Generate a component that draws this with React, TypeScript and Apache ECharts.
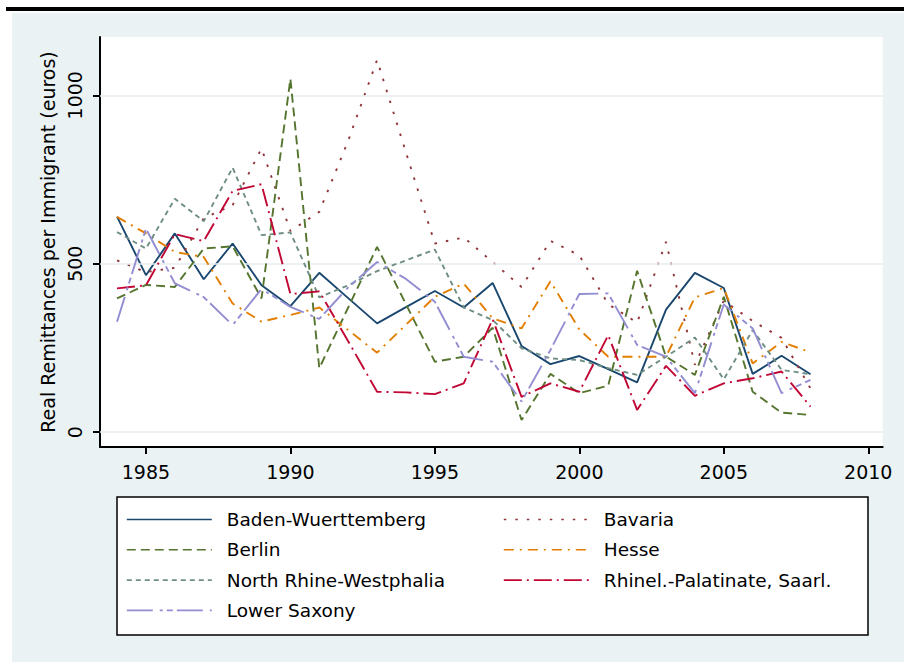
import React, { useEffect, useRef } from "react";
import * as echarts from "echarts";

const years = [1984, 1985, 1986, 1987, 1988, 1989, 1990, 1991, 1992, 1993, 1994, 1995, 1996, 1997, 1998, 1999, 2000, 2001, 2002, 2003, 2004, 2005, 2006, 2007, 2008];

const badenWuerttemberg = [640, 466, 590, 454, 560, 436, 374, 473, 398, 323, 371, 419, 370, 443, 256, 202, 226, 187, 148, 364, 473, 428, 173, 227, 172];
const bavaria = [510, 475, 488, 635, 674, 842, 597, 654, 865, 1105, 830, 560, 578, 505, 431, 568, 525, 380, 325, 565, 200, 390, 330, 280, 130];
const berlin = [397, 437, 431, 545, 552, 397, 1049, 190, 370, 550, 380, 209, 224, 310, 36, 173, 116, 138, 479, 224, 170, 402, 120, 58, 51];
const hesse = [639, 590, 535, 520, 382, 328, 348, 370, 303, 236, 319, 402, 441, 338, 308, 448, 305, 224, 224, 224, 400, 428, 204, 268, 237];
const northRhineWestphalia = [594, 545, 693, 626, 785, 585, 593, 400, 436, 478, 510, 542, 370, 333, 249, 219, 214, 190, 170, 224, 281, 157, 303, 185, 172];
const rhinelPalatinate = [427, 436, 588, 567, 716, 736, 410, 418, 270, 120, 118, 113, 145, 335, 105, 145, 120, 288, 66, 197, 108, 145, 160, 180, 76];
const lowerSaxony = [328, 604, 442, 401, 318, 425, 372, 336, 430, 505, 455, 387, 224, 209, 91, 244, 410, 412, 259, 224, 116, 379, 308, 116, 155];

const xTicks = [1985, 1990, 1995, 2000, 2005, 2010];
const yTicks = [0, 500, 1000];

const seriesNames = [
  "Baden-Wuerttemberg",
  "Bavaria",
  "Berlin",
  "Hesse",
  "North Rhine-Westphalia",
  "Rhinel.-Palatinate, Saarl.",
  "Lower Saxony",
];
const seriesValues = [badenWuerttemberg, bavaria, berlin, hesse, northRhineWestphalia, rhinelPalatinate, lowerSaxony];
const seriesColors = ["#1A476F", "#90353B", "#55752F", "#E37E00", "#6E8E84", "#C10534", "#938DD2"];
const seriesDash: any[] = [
  "solid",
  [2.5, 9],
  [9, 5],
  [10, 6, 2, 6],
  [5, 4],
  [18, 5, 2, 5],
  [26, 7, 3, 4, 6, 4],
];

const FONT = "'DejaVu Sans', 'Liberation Sans', Arial, sans-serif";

export default function App() {
  const ref = useRef<HTMLDivElement>(null);
  useEffect(() => {
    if (!ref.current) return;
    const chart = echarts.init(ref.current, null, { renderer: "svg" });
    const lineSeries = seriesNames.map((name, i) => ({
      name,
      type: "line",
      symbol: "none",
      z: 3 + i,
      data: years.map((y, j) => [y, seriesValues[i][j]]),
      lineStyle: { color: seriesColors[i], width: 1.9, type: seriesDash[i] },
      itemStyle: { color: seriesColors[i] },
    }));
    const legendCommon = {
      top: 510,
      orient: "vertical",
      padding: 0,
      itemWidth: 85,
      itemHeight: 20,
      itemGap: 11.3,
      z: 20,
      selectedMode: false,
      itemStyle: { opacity: 0 },
      lineStyle: { width: 1.6 },
      textStyle: { fontSize: 18.5, color: "#000", fontFamily: FONT, padding: [0, 0, 0, 10] },
    };
    chart.setOption({
      animation: false,
      backgroundColor: "transparent",
      textStyle: { fontFamily: FONT },
      grid: {
        left: 100,
        top: 37,
        width: 782.7,
        height: 410,
        show: true,
        backgroundColor: "#ffffff",
        borderWidth: 0,
      },
      xAxis: {
        type: "value",
        min: 1983.41,
        max: 2010.5,
        axisLine: { show: true, onZero: false, lineStyle: { color: "#000", width: 2 } },
        axisTick: { show: true, customValues: xTicks, length: 7, lineStyle: { color: "#000", width: 2 } },
        axisLabel: {
          customValues: xTicks,
          color: "#000",
          fontSize: 19,
          margin: 15,
          fontFamily: FONT,
          formatter: (v: number) => String(v),
        },
        splitLine: { show: false },
      },
      yAxis: {
        type: "value",
        min: -44,
        max: 1173,
        name: "Real Remittances per Immigrant (euros)",
        nameLocation: "middle",
        nameRotate: 90,
        nameGap: 35,
        nameTextStyle: { color: "#000", fontSize: 19, fontFamily: FONT },
        axisLine: { show: true, onZero: false, lineStyle: { color: "#000", width: 2 } },
        axisTick: { show: true, customValues: yTicks, length: 7, lineStyle: { color: "#000", width: 2 } },
        axisLabel: {
          customValues: yTicks,
          rotate: 90,
          color: "#000",
          fontSize: 19,
          margin: 16,
          fontFamily: FONT,
          formatter: (v: number) => String(v),
        },
        splitLine: { show: false },
      },
      legend: [
        {
          ...legendCommon,
          left: 126,
          data: ["Baden-Wuerttemberg", "Berlin", "North Rhine-Westphalia", "Lower Saxony"],
        },
        {
          ...legendCommon,
          left: 503,
          data: ["Bavaria", "Hesse", "Rhinel.-Palatinate, Saarl."],
        },
      ],
      graphic: [
        {
          type: "rect",
          z: 1,
          shape: { x: 117, y: 497, width: 751, height: 138 },
          style: { fill: "#ffffff", stroke: "#000000", lineWidth: 1.5 },
        },
      ],
      series: [
        {
          name: "grid",
          type: "line",
          data: [],
          z: 1,
          silent: true,
          markLine: {
            silent: true,
            symbol: ["none", "none"],
            label: { show: false },
            lineStyle: { color: "#E6EEF0", width: 1.5, type: "solid" },
            data: yTicks.map((v) => ({ yAxis: v })),
          },
        },
        ...lineSeries,
      ],
    });
    return () => chart.dispose();
  }, []);

  return (
    <div style={{ position: "absolute", left: 0, top: 0, width: 904, height: 662, background: "#ffffff", overflow: "hidden" }}>
      <div style={{ position: "absolute", left: 6, top: 7, width: 898, height: 4, background: "#000" }} />
      <div style={{ position: "absolute", left: 12, top: 13, width: 892, height: 649, background: "#EAF2F3" }} />
      <div ref={ref} style={{ position: "absolute", left: 0, top: 0, width: 904, height: 662 }} />
    </div>
  );
}
